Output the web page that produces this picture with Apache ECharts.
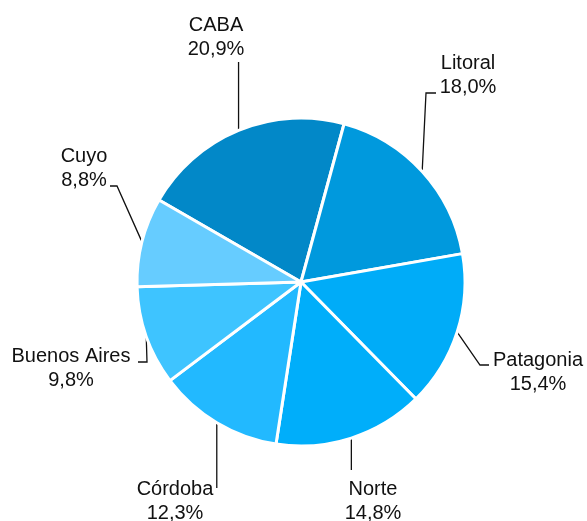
<!DOCTYPE html>
<html>
<head>
<meta charset="utf-8">
<script src="https://cdn.jsdelivr.net/npm/echarts@6/dist/echarts.min.js"></script>
<style>
html, body { margin: 0; padding: 0; background: #fff; }
#pie1 { width: 587px; height: 521px; }
</style>
</head>
<body>
<div id="pie1"></div>
<script>
// datos: participación por región
var regiones = ['CABA', 'Litoral', 'Patagonia', 'Norte', 'Córdoba', 'Buenos Aires', 'Cuyo'];
var valores = [20.9, 18.0, 15.4, 14.8, 12.3, 9.8, 8.8];
var colores = ['#0288c8', '#0099dd', '#00acf8', '#00aefa', '#22b9ff', '#3ec4ff', '#66ccff'];

// posición de cada etiqueta (centro del bloque de texto) y codo de la línea guía
var etiquetas = [
    {pos: [216, 37], line: [['v', 62]]},
    {pos: [468, 75], line: [[426, 93], [436, 93]]},
    {pos: [538, 372], line: [[480, 365], [489, 365]]},
    {pos: [373, 501], line: [['v', 470]]},
    {pos: [175, 501], line: [['v', 488]]},
    {pos: [71, 368], line: [[147, 362], [138, 362]]},
    {pos: [84, 168], line: [[117, 186], [110, 186]]}
];

var myChart = echarts.init(document.getElementById('pie1'));

var datos = regiones.map(function (r, i) {
    return {name: r, value: valores[i], itemStyle: {color: colores[i]}};
});

var option = {
    animation: false,
    series: [
        {
            type: 'pie',
            center: [301, 282],
            radius: [0, 164],
            startAngle: 150,
            clockwise: true,
            data: datos,
            itemStyle: {
                borderColor: '#fff',
                borderWidth: 3
            },
            label: {
                show: true,
                position: 'outside',
                color: '#111',
                fontFamily: 'Liberation Sans, Arial, sans-serif',
                fontSize: 20,
                lineHeight: 24,
                align: 'center',
                overflow: 'none',
                formatter: function (p) {
                    return p.name + '\n' + p.value.toFixed(1).replace('.', ',') + '%';
                }
            },
            labelLine: {
                show: true,
                length: 10,
                length2: 10,
                lineStyle: {color: '#111', width: 1.3}
            },
            labelLayout: function (params) {
                var e = etiquetas[params.dataIndex];
                var start = params.labelLinePoints ? params.labelLinePoints[0] : [0, 0];
                var pts = [start.slice()];
                e.line.forEach(function (p) {
                    if (p[0] === 'v') {
                        pts.push([start[0], p[1]]);
                    } else {
                        pts.push(p);
                    }
                });
                return {
                    x: e.pos[0],
                    y: e.pos[1],
                    width: 140,
                    align: 'center',
                    verticalAlign: 'middle',
                    labelLinePoints: pts
                };
            }
        }
    ]
};
myChart.setOption(option);
</script>
</body>
</html>
